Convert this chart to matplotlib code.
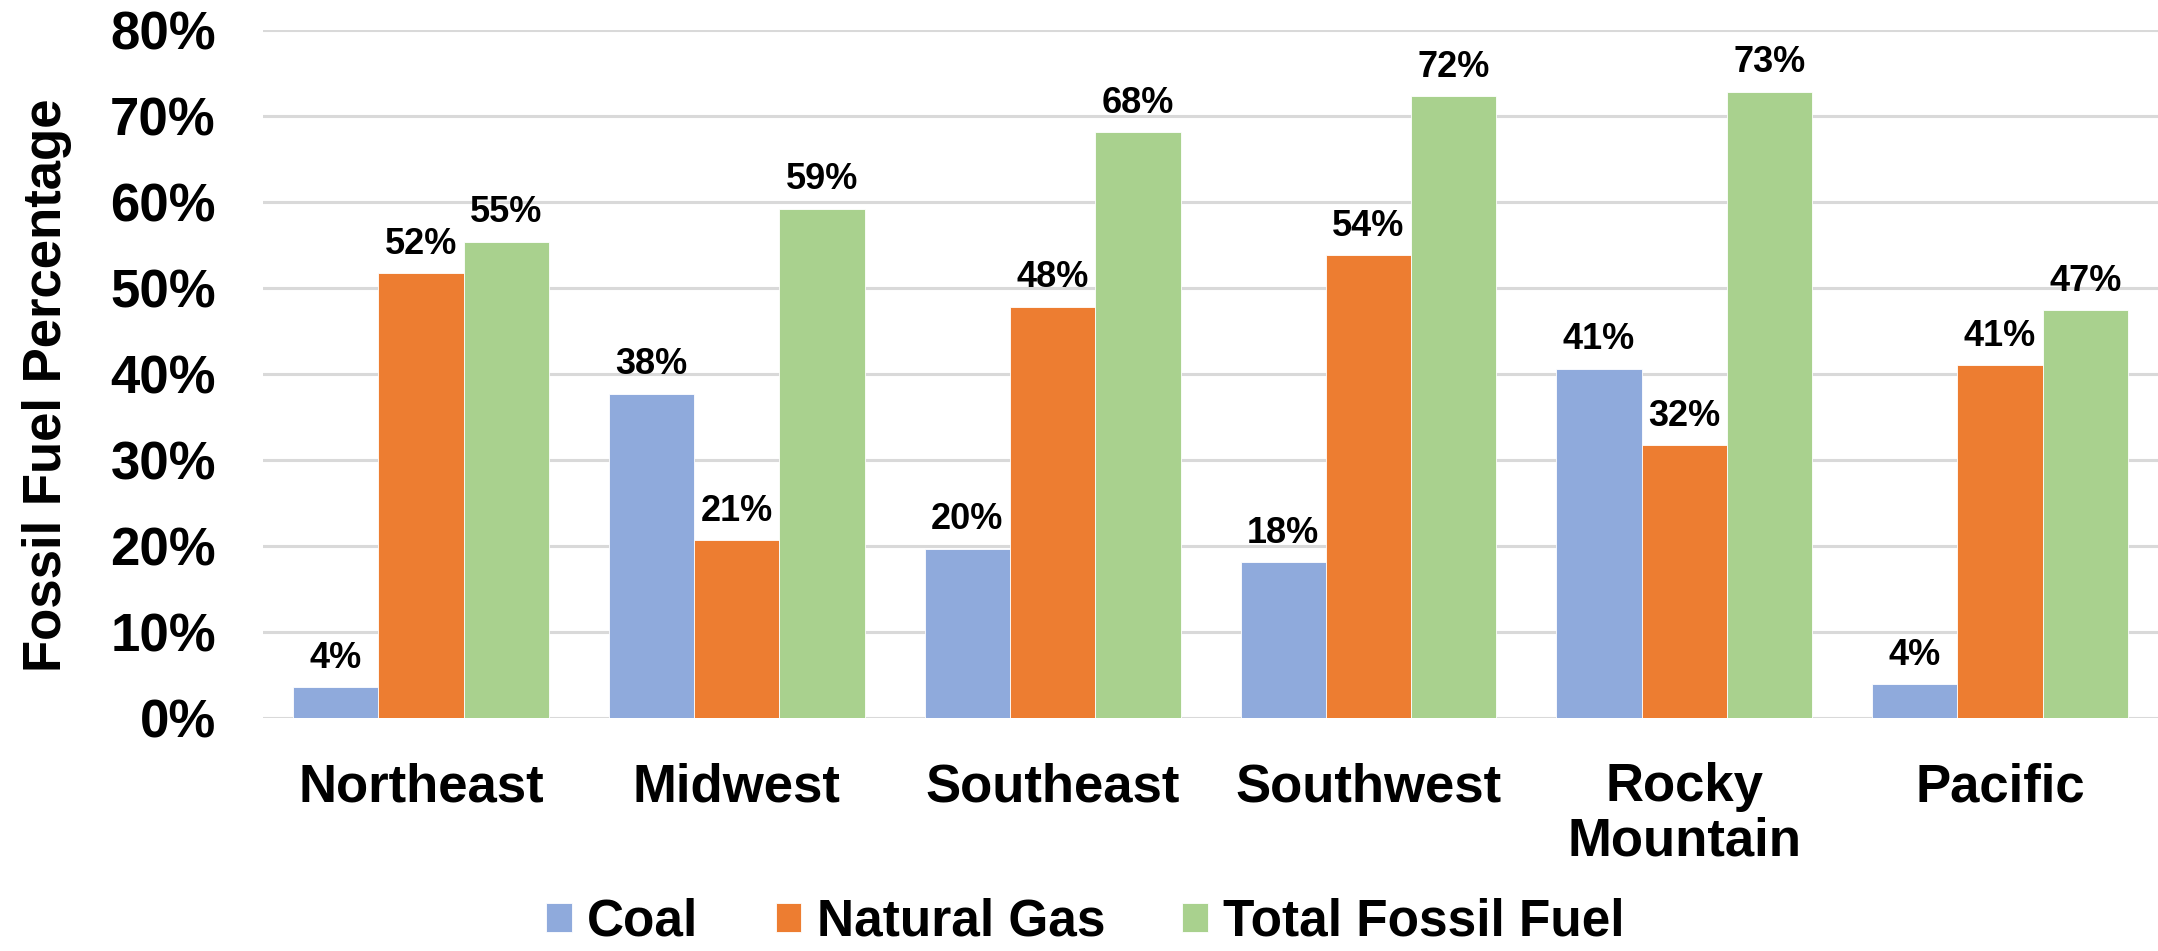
import numpy as np
import matplotlib
matplotlib.use("Agg")
import matplotlib.pyplot as plt
from matplotlib.ticker import PercentFormatter

plt.rcParams['font.family'] = ['Liberation Sans', 'DejaVu Sans']
plt.rcParams['font.weight'] = 'bold'

regions = ["Northeast", "Midwest", "Southeast", "Southwest", "Rocky\nMountain", "Pacific"]
coal = [3.6, 37.7, 19.7, 18.1, 40.6, 3.9]
natural_gas = [51.7, 20.7, 47.8, 53.8, 31.7, 41.0]
total_fossil = [55.4, 59.2, 68.1, 72.3, 72.8, 47.4]
series_names = ["Coal", "Natural Gas", "Total Fossil Fuel"]
colors = ["#8FAADC", "#ED7D31", "#A9D18E"]

fig = plt.figure(figsize=(21.58, 9.51), dpi=100)
ax = fig.add_axes([0.1219, 0.245, 0.8781, 0.7235])

x = np.arange(len(regions))
w = 0.27
for i, (vals, name, c) in enumerate(zip([coal, natural_gas, total_fossil], series_names, colors)):
    bars = ax.bar(x + (i - 1) * w, vals, w, color=c, label=name, edgecolor='white', linewidth=0.6, zorder=3)
    for b, v in zip(bars, vals):
        ax.annotate(f"{round(v)}%", (b.get_x() + b.get_width() / 2, b.get_height()),
                    xytext=(0, 14), textcoords='offset points', ha='center', va='baseline',
                    fontsize=26, fontweight='bold')

ax.set_xlim(-0.5, len(regions) - 0.5)
ax.set_ylim(0, 80)
ax.set_yticks(np.arange(0, 81, 10))
ax.yaxis.set_major_formatter(PercentFormatter(decimals=0))
ax.grid(axis='y', color='#D9D9D9', linewidth=2.2, zorder=0)
for s in ax.spines.values():
    s.set_visible(False)
ax.tick_params(axis='both', length=0, labelsize=38)
ax.tick_params(axis='y', pad=34)
ax.tick_params(axis='x', pad=32)
ax.set_xticks(x)
ax.set_xticklabels(regions, linespacing=1.1, fontweight='bold')
for t in ax.get_yticklabels():
    t.set_fontweight('bold')

fig.text(0.022, 0.595, "Fossil Fuel Percentage", rotation=90, ha='center', va='center',
         fontsize=38, fontweight='bold')

fig.legend(loc='center', bbox_to_anchor=(0.503, 0.03), ncol=3, frameon=False,
           fontsize=37, handlelength=0.5, handleheight=0.5, handletextpad=0.3,
           columnspacing=1.5, borderaxespad=0)

fig.savefig("out.png", dpi=100)
